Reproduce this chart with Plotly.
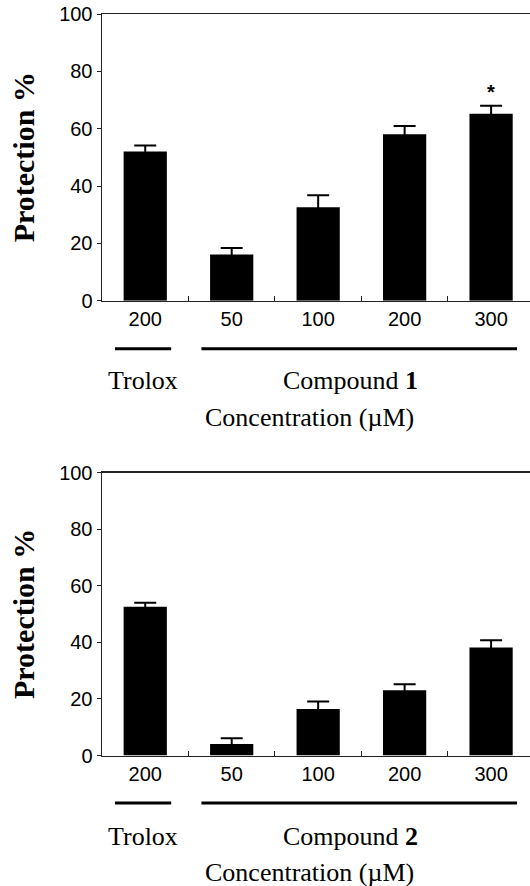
import plotly.graph_objects as go

# ---- data ----
tick_labels = ["200", "50", "100", "200", "300"]
group_names = ["Trolox", "Compound"]
group_ranges = [(0, 0), (1, 4)]

prot_c1 = [52.0, 16.1, 32.6, 58.1, 65.2]
err_c1 = [2.1, 2.3, 4.2, 2.8, 2.8]
signif_c1 = ["", "", "", "", "*"]

prot_c2 = [52.6, 4.1, 16.4, 23.1, 38.2]
err_c2 = [1.4, 2.0, 2.7, 2.1, 2.5]

compound_ids = ["1", "2"]
y_ticks = [0, 20, 40, 60, 80, 100]

xpos = list(range(len(tick_labels)))

AX = "#222222"
SANS = "Liberation Sans, Arial, sans-serif"
SERIF = "Liberation Serif, Times New Roman, serif"

W, H = 530, 886

def px_x(x):
    return x / W

def px_y(y):
    return 1 - y / H

fig = go.Figure()
for i, (vals, errs) in enumerate([(prot_c1, err_c1), (prot_c2, err_c2)]):
    sfx = "" if i == 0 else "2"
    fig.add_trace(go.Bar(
        x=xpos, y=vals, width=0.5,
        marker=dict(color="black", line=dict(width=0)),
        error_y=dict(type="data", array=errs, symmetric=True,
                     color="black", thickness=2, width=11),
        xaxis="x" + sfx, yaxis="y" + sfx, showlegend=False,
    ))

xdom = [px_x(102), 1.0]
ydoms = [[px_y(300.7), px_y(14)], [px_y(755.5), px_y(472.5)]]

def xaxis_cfg(anchor):
    return dict(
        domain=xdom, range=[-0.5, 4.45], anchor=anchor, automargin=False,
        tickmode="array", tickvals=xpos, ticktext=tick_labels,
        ticks="", showline=True, linecolor=AX, linewidth=1.5, mirror=True,
        showgrid=False, zeroline=False, ticklabeloverflow="allow",
        tickfont=dict(family=SANS, size=20, color="black"),
        minor=dict(tickmode="array", tickvals=[0.5, 1.5, 2.5, 3.5],
                   ticks="inside", ticklen=5, tickwidth=1, tickcolor=AX,
                   showgrid=False),
        fixedrange=True,
    )

def yaxis_cfg(dom, anchor):
    return dict(
        domain=dom, range=[0, 100], anchor=anchor, automargin=False,
        tickmode="array", tickvals=y_ticks,
        ticks="outside", ticklen=4, tickwidth=1, tickcolor=AX,
        showline=True, linecolor=AX, linewidth=1.5, mirror=False,
        showgrid=False, zeroline=False, ticklabeloverflow="allow",
        tickfont=dict(family=SANS, size=20, color="black"),
        fixedrange=True,
    )

shapes = []
annotations = []
text_y = [px_y(380), px_y(836.7)]
conc_y = [px_y(417.3), px_y(872)]
for i in range(2):
    sfx = "" if i == 0 else "2"
    for (a, b) in group_ranges:
        shapes.append(dict(type="line", xref="x" + sfx, yref="y" + sfx + " domain",
                           x0=a - 0.35, x1=b + 0.3, y0=-0.168, y1=-0.168,
                           line=dict(color="black", width=3)))
    annotations.append(dict(text="<b>Protection %</b>", xref="paper", yref="paper",
                            x=px_x(23), y=sum(ydoms[i]) / 2, xanchor="center",
                            yanchor="middle", textangle=-90, showarrow=False,
                            font=dict(family=SERIF, size=30, color="black")))
    annotations.append(dict(text=group_names[0], xref="paper", yref="paper",
                            x=px_x(142.5), y=text_y[i], xanchor="center", yanchor="middle",
                            showarrow=False, font=dict(family=SERIF, size=26, color="black")))
    annotations.append(dict(text=f"{group_names[1]} <b>{compound_ids[i]}</b>", xref="paper",
                            yref="paper", x=px_x(350), y=text_y[i], xanchor="center",
                            yanchor="middle", showarrow=False,
                            font=dict(family=SERIF, size=26, color="black")))
    annotations.append(dict(text="Concentration (\u00b5M)", xref="paper", yref="paper",
                            x=px_x(309), y=conc_y[i], xanchor="center", yanchor="middle",
                            showarrow=False, font=dict(family=SERIF, size=26, color="black")))

for xi, s in enumerate(signif_c1):
    if s:
        annotations.append(dict(text=f"<b>{s}</b>", xref="x", yref="y", x=xi,
                                y=prot_c1[xi] + err_c1[xi], yanchor="bottom", yshift=1,
                                showarrow=False, font=dict(family=SANS, size=20, color="black")))

fig.update_layout(
    width=W, height=H, autosize=False, margin=dict(l=0, r=0, t=0, b=0, pad=0),
    paper_bgcolor="white", plot_bgcolor="white",
    xaxis=xaxis_cfg("y"), yaxis=yaxis_cfg(ydoms[0], "x"),
    xaxis2=xaxis_cfg("y2"), yaxis2=yaxis_cfg(ydoms[1], "x2"),
    shapes=shapes, annotations=annotations, bargap=0.5, hovermode=False,
)

# remove the browser's default 8px page margin so the figure sits at (0, 0)
fig.write_html(
    "out.html",
    config={"displayModeBar": False, "staticPlot": True},
    post_script="document.body.style.margin='0';document.body.style.overflow='hidden';",
)
